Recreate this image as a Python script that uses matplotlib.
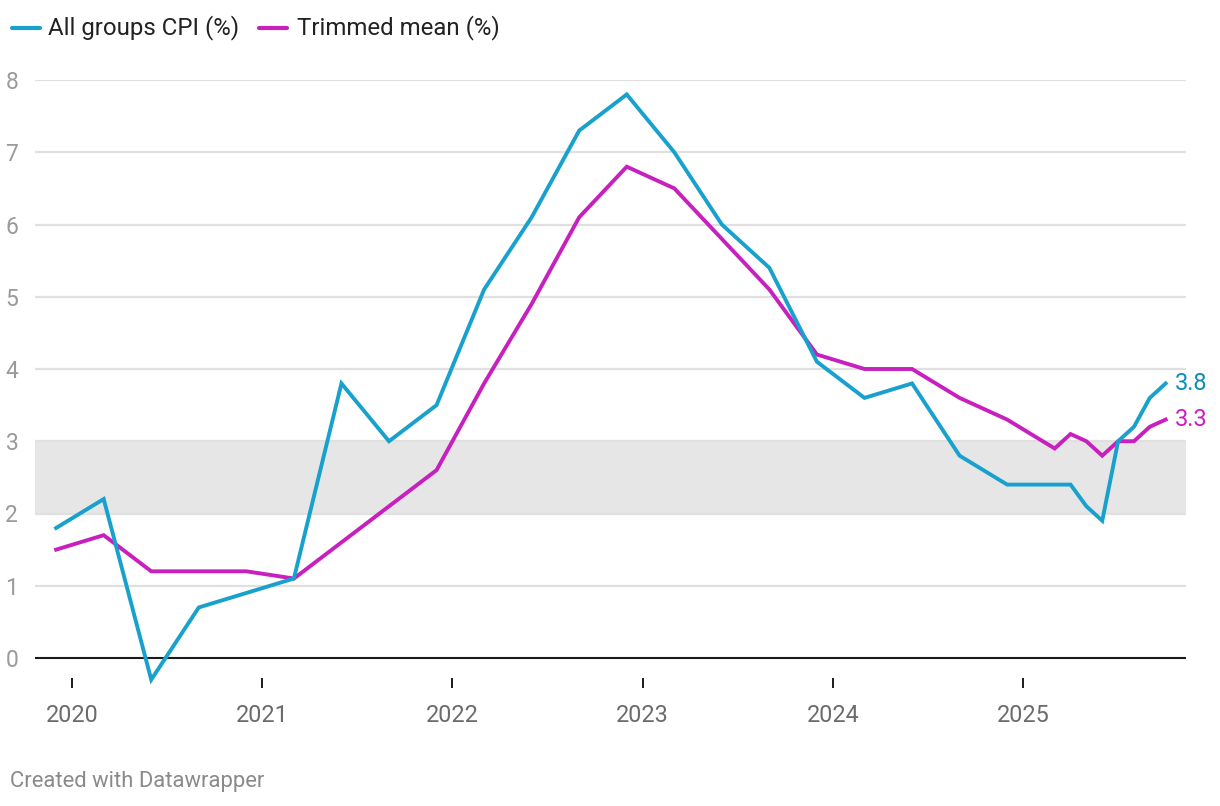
import matplotlib.pyplot as plt
from matplotlib.lines import Line2D

plt.rcParams['font.family'] = ['Roboto', 'DejaVu Sans']

# monthly points: quarterly to Mar 2025, then monthly
fechas = ['2019-12', '2020-03', '2020-06', '2020-09', '2020-12',
          '2021-03', '2021-06', '2021-09', '2021-12',
          '2022-03', '2022-06', '2022-09', '2022-12',
          '2023-03', '2023-06', '2023-09', '2023-12',
          '2024-03', '2024-06', '2024-09', '2024-12',
          '2025-03', '2025-04', '2025-05', '2025-06',
          '2025-07', '2025-08', '2025-09', '2025-10']
cpi = [1.8, 2.2, -0.3, 0.7, 0.9,
       1.1, 3.8, 3.0, 3.5,
       5.1, 6.1, 7.3, 7.8,
       7.0, 6.0, 5.4, 4.1,
       3.6, 3.8, 2.8, 2.4,
       2.4, 2.4, 2.1, 1.9,
       3.0, 3.2, 3.6, 3.8]
trimmed = [1.5, 1.7, 1.2, 1.2, 1.2,
           1.1, 1.6, 2.1, 2.6,
           3.8, 4.9, 6.1, 6.8,
           6.5, 5.8, 5.1, 4.2,
           4.0, 4.0, 3.6, 3.3,
           2.9, 3.1, 3.0, 2.8,
           3.0, 3.0, 3.2, 3.3]
anios = [2020, 2021, 2022, 2023, 2024, 2025]
yticks = [0, 1, 2, 3, 4, 5, 6, 7, 8]

x = [int(f[:4]) + (int(f[5:]) - 1) / 12 for f in fechas]

azul = '#18a1cd'
magenta = '#c81fbf'

W, H = 1220, 806
fig = plt.figure(figsize=(W / 100, H / 100), dpi=100)
# axes box in pixels: left 35, right 1186, top 80 (=8), bottom 678
ax = fig.add_axes([35 / W, (H - 678) / H, 1151 / W, 598 / H])
ax.set_xlim(2019.8055, 2025.857)
ax.set_ylim(-20 / 72.25, 8)

for s in ax.spines.values():
    s.set_visible(False)

# banda objetivo 2-3
ax.axhspan(2, 3, color='#e6e6e6', lw=0, zorder=0)
for v in yticks[1:]:
    ax.axhline(v, color='#e0e0e0', lw=1.6, zorder=1)
ax.axhline(0, color='#1a1a1a', lw=1.5, zorder=2)

ax.plot(x, cpi, color=azul, lw=2.8, zorder=4, clip_on=False, solid_joinstyle='miter')
ax.plot(x, trimmed, color=magenta, lw=2.8, zorder=3, clip_on=False, solid_joinstyle='miter')

ax.text(x[-1] + 0.05, cpi[-1], f'{cpi[-1]:.1f}', color='#0b8db8', fontsize=17,
        va='center', ha='left')
ax.text(x[-1] + 0.05, trimmed[-1], f'{trimmed[-1]:.1f}', color=magenta, fontsize=17,
        va='center', ha='left')

ax.set_yticks(yticks)
ax.set_yticklabels([str(v) for v in yticks])
ax.tick_params(axis='y', length=0, pad=12, labelsize=16.5, labelcolor='#9a9a9a')
ax.set_xticks(anios)
ax.set_xticklabels([str(a) for a in anios])
ax.tick_params(axis='x', direction='out', length=7.5, width=1.4, color='#1a1a1a',
               pad=11, labelsize=16.8, labelcolor='#6b6b6b')

# leyenda
fig.add_artist(Line2D([12 / W, 40 / W], [1 - 28 / H, 1 - 28 / H], color=azul, lw=3,
                      solid_capstyle='round'))
fig.text(48 / W, 1 - 28 / H, 'All groups CPI (%)', fontsize=17.3, color='#222222', va='center')
fig.add_artist(Line2D([259 / W, 287 / W], [1 - 28 / H, 1 - 28 / H], color=magenta, lw=3,
                      solid_capstyle='round'))
fig.text(297 / W, 1 - 28 / H, 'Trimmed mean (%)', fontsize=17.3, color='#222222', va='center')

fig.text(10 / W, 1 - 782 / H, 'Created with Datawrapper', fontsize=15.8, color='#8a8a8a',
         va='center')

fig.savefig('out.png', dpi=100)
